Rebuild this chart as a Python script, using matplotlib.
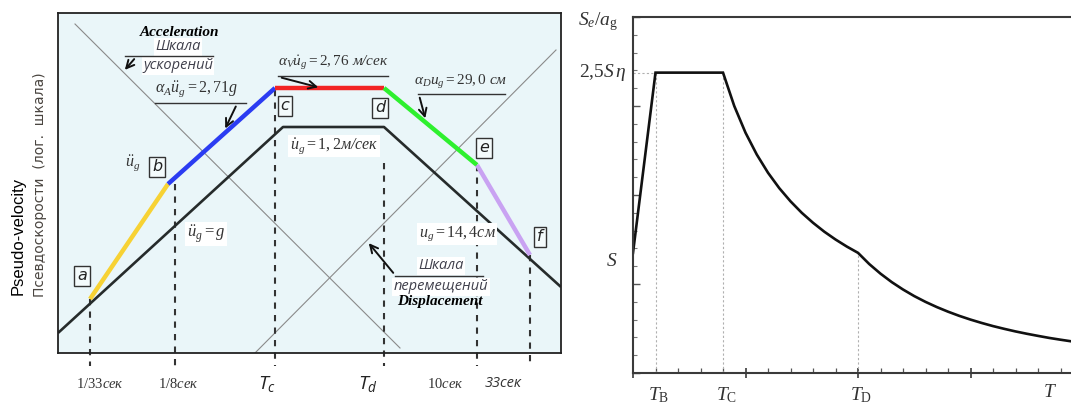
import numpy as np
import matplotlib.pyplot as plt
from matplotlib.ticker import MultipleLocator

plt.rcParams['mathtext.fontset'] = 'custom'
plt.rcParams['mathtext.rm'] = 'Liberation Serif'
plt.rcParams['mathtext.it'] = 'Liberation Serif:italic'
plt.rcParams['mathtext.bf'] = 'Liberation Serif:bold'
plt.rcParams['mathtext.sf'] = 'Open Sans:italic'

# ---- left panel: schematic tripartite spectrum (diagram units, y grows downward)
ground_x = [58, 283, 384, 561]
ground_y = [333, 127, 127, 287]
spec_x = [90, 168, 275, 384, 477, 530]      # points a..f
spec_y = [299, 184, 88, 88, 165, 255]
spec_colors = ['#f7d234', '#2b3cf2', '#f22424', '#2ef02e', '#c9a2f2']
point_names = ['a', 'b', 'c', 'd', 'e', 'f']
point_box_x = [82, 157, 285, 380, 484, 540]
point_box_y = [276, 167, 106, 108, 148, 237]
period_x = [90, 175, 275, 384, 477, 530]
period_top = [299, 184, 90, 163, 165, 255]
period_bottom = [366, 366, 366, 366, 366, 362]
period_labels = ['$1/33$сек', '$1/8$сек', r'$\mathsf{T_c}$', r'$\mathsf{T_d}$',
                 '$10$сек', '33сек']
period_label_x = [100, 178, 267, 368, 445, 503]
accel_x, accel_y = [75, 400], [24, 348]
disp_x, disp_y = [255, 556], [353, 50]

# ---- right panel: design spectrum Se/ag
T_B, T_C, T_D = 0.2, 0.8, 2.0
S_level = 1.35
plateau = 3.375
period = [0, 0.2, 0.8, 0.9, 1.0, 1.1, 1.2, 1.3, 1.4, 1.5, 1.6, 1.7, 1.8, 1.9, 2.0,
          2.1, 2.2, 2.3, 2.4, 2.5, 2.6, 2.7, 2.8, 2.9, 3.0, 3.1, 3.2, 3.3, 3.4,
          3.5, 3.6, 3.7, 3.8, 3.9]
se_ag = [1.35, 3.375, 3.375, 3.0, 2.70, 2.455, 2.25, 2.077, 1.929, 1.80, 1.688,
         1.588, 1.50, 1.421, 1.35, 1.224, 1.116, 1.021, 0.938, 0.864, 0.799,
         0.741, 0.689, 0.642, 0.60, 0.562, 0.527, 0.496, 0.467, 0.441, 0.417,
         0.394, 0.374, 0.355]

W, H = 1071, 407
fig = plt.figure(figsize=(W / 100, H / 100), dpi=100)


def place(x0, y0, x1, y1):
    return [x0 / W, 1 - y1 / H, (x1 - x0) / W, (y1 - y0) / H]


# ================= left panel =================
ax = fig.add_axes(place(58, 13, 561, 353))
ax.set_xlim(58, 561)
ax.set_ylim(353, 13)
ax.set_facecolor('#eaf6f9')
ax.set_xticks([])
ax.set_yticks([])
for sp in ax.spines.values():
    sp.set_color('#222222')
    sp.set_linewidth(1.3)

ax.plot(accel_x, accel_y, color='#8a8a8a', lw=0.8)
ax.plot(disp_x, disp_y, color='#8a8a8a', lw=0.8)

for x, y0, y1 in zip(period_x, period_top, period_bottom):
    ax.plot([x, x], [y0, y1], color='#333333', lw=1.5, ls=(0, (3, 3)),
            clip_on=False)

ax.plot(ground_x, ground_y, color='#262b2b', lw=1.9, solid_capstyle='butt')
for i, c in enumerate(spec_colors):
    ax.plot(spec_x[i:i + 2], spec_y[i:i + 2], color=c, lw=3.2,
            solid_capstyle='butt')

for name, x, y in zip(point_names, point_box_x, point_box_y):
    ax.text(x, y, name, ha='center', va='center', fontsize=11.5,
            family='DejaVu Sans', style='italic', color='#222222',
            bbox=dict(boxstyle='square,pad=0.18', fc='#f4fbfc', ec='#333333',
                      lw=1.0))

for x, lab in zip(period_label_x, period_labels):
    if 'mathsf' in lab:
        ax.text(x, 384, lab, ha='center', va='center', fontsize=14,
                color='#222222', clip_on=False)
    elif lab.startswith('$'):
        ax.text(x, 384, lab, ha='center', va='center', fontsize=10.5,
                family='Liberation Serif', style='italic', color='#333333',
                clip_on=False)
    else:
        ax.text(x, 384, lab, ha='center', va='center', fontsize=10.5,
                family='Open Sans', style='italic', color='#333333',
                clip_on=False)

serif = dict(family='Liberation Serif', style='italic', color='#333333',
             ha='center', va='center')
white = dict(boxstyle='square,pad=0.1', fc='white', ec='none')
arrow = dict(arrowstyle='->', color='#111111', lw=1.4, mutation_scale=14)
rule = dict(color='#333333', lw=1.0, zorder=6)

# acceleration scale label
ax.text(180, 33, 'Acceleration', fontsize=11, family='Liberation Serif',
        style='italic', weight='bold', ha='center', va='center', color='black')
ax.text(178, 47, 'Шкала', fontsize=10.5, family='Open Sans', style='italic',
        ha='center', va='center', color='#40404c', bbox=white)
ax.text(178, 66, 'ускорений', fontsize=10.5, family='Open Sans', style='italic',
        ha='center', va='center', color='#40404c', bbox=white)
ax.plot([125, 213], [56, 56], **rule)
ax.annotate('', xy=(123, 72), xytext=(136, 57), arrowprops=arrow)

# alpha_A
ax.text(197, 89, r'$\alpha_A\ddot{u}_g = 2,71$g', fontsize=11.5, **serif)
ax.plot([155, 246], [103, 103], **rule)
ax.annotate('', xy=(224, 131), xytext=(237, 104), arrowprops=arrow)
ax.text(133, 163, r'$\ddot{u}_g$', fontsize=11.5, **serif)

# alpha_V
ax.text(333, 63, r'$\alpha_V\dot{u}_g = 2,76$ м/сек', fontsize=11, **serif)
ax.plot([278, 388], [76, 76], **rule)
ax.annotate('', xy=(321, 88), xytext=(279, 77), arrowprops=arrow)

# alpha_D
ax.text(461, 82, r'$\alpha_D u_g = 29,0$ см', fontsize=11, **serif)
ax.plot([418, 505], [94, 94], **rule)
ax.annotate('', xy=(426, 121), xytext=(419, 95), arrowprops=arrow)

# ground motion labels
ax.text(334, 146, r'$\dot{u}_g = 1,2$м/сек', fontsize=11.5, bbox=white, **serif)
ax.text(206, 234, r'$\ddot{u}_g = g$', fontsize=12, bbox=white, **serif)
ax.text(457, 234, r'$u_g = 14,4$см', fontsize=11.5, bbox=white, **serif)

# displacement scale label
ax.text(441, 266, 'Шкала', fontsize=10.5, family='Open Sans', style='italic',
        ha='center', va='center', color='#40404c', bbox=white)
ax.text(441, 287, 'перемещений', fontsize=10.5, family='Open Sans',
        style='italic', ha='center', va='center', color='#40404c', bbox=white)
ax.text(440, 302, 'Displacement', fontsize=11, family='Liberation Serif',
        style='italic', weight='bold', ha='center', va='center', color='black')
ax.plot([395, 483], [276, 276], **rule)
ax.annotate('', xy=(367, 241), xytext=(395, 275), arrowprops=arrow)

fig.text(18 / W, 1 - 236 / H, 'Pseudo-velocity', rotation=90, fontsize=12,
         family='Liberation Sans', ha='center', va='center', color='black')
fig.text(40 / W, 1 - 185 / H, 'Псевдоскорости  (лог.  шкала)', rotation=90,
         fontsize=10, family='DejaVu Sans', ha='center', va='center',
         color='#4a4540')

# ================= right panel =================
ax2 = fig.add_axes(place(633, 17, 1071, 373))
ax2.set_xlim(0, 3.893)
ax2.set_ylim(0, 4.0)
ax2.spines['right'].set_visible(False)
for s in ['left', 'bottom', 'top']:
    ax2.spines[s].set_color('#3a3a3a')
    ax2.spines[s].set_linewidth(1.5)

guide = dict(color='#b0b0b0', lw=0.8, ls=(0, (2, 2)))
ax2.plot([T_B, T_B], [0, plateau], **guide)
ax2.plot([T_C, T_C], [0, plateau], **guide)
ax2.plot([T_D, T_D], [0, S_level], **guide)
ax2.plot([0, T_B], [plateau, plateau], **guide)

ax2.plot(period, se_ag, color='#111111', lw=1.9, solid_joinstyle='miter')

ax2.xaxis.set_major_locator(MultipleLocator(1.0))
ax2.xaxis.set_minor_locator(MultipleLocator(0.2))
ax2.yaxis.set_major_locator(MultipleLocator(1.0))
ax2.yaxis.set_minor_locator(MultipleLocator(0.2))
ax2.tick_params(axis='x', which='major', direction='inout', length=7,
                width=1.2, color='#3a3a3a', labelbottom=False)
ax2.tick_params(axis='x', which='minor', direction='in', length=3.5,
                width=0.9, color='#555555')
ax2.tick_params(axis='y', which='major', direction='in', length=5,
                width=1.0, color='#555555', labelleft=False)
ax2.tick_params(axis='y', which='minor', direction='in', length=3,
                width=0.8, color='#777777')

rtxt = dict(family='Liberation Serif', color='#333333', fontsize=14,
            clip_on=False, va='center')
ax2.text(-0.31, 3.95, r'$S_e/a_{\rm g}$', ha='center', **rtxt)
ax2.text(-0.06, plateau, r'2,5$S\,\eta$', ha='right', **rtxt)
ax2.text(-0.19, 1.25, r'$S$', ha='center', **rtxt)
ax2.text(T_B + 0.03, -0.25, r'$T_{\rm B}$', ha='center', **rtxt)
ax2.text(T_C + 0.03, -0.25, r'$T_{\rm C}$', ha='center', **rtxt)
ax2.text(T_D + 0.03, -0.25, r'$T_{\rm D}$', ha='center', **rtxt)
ax2.text(3.71, -0.22, r'$T$', ha='center', **rtxt)

fig.savefig('out.png', dpi=100)
